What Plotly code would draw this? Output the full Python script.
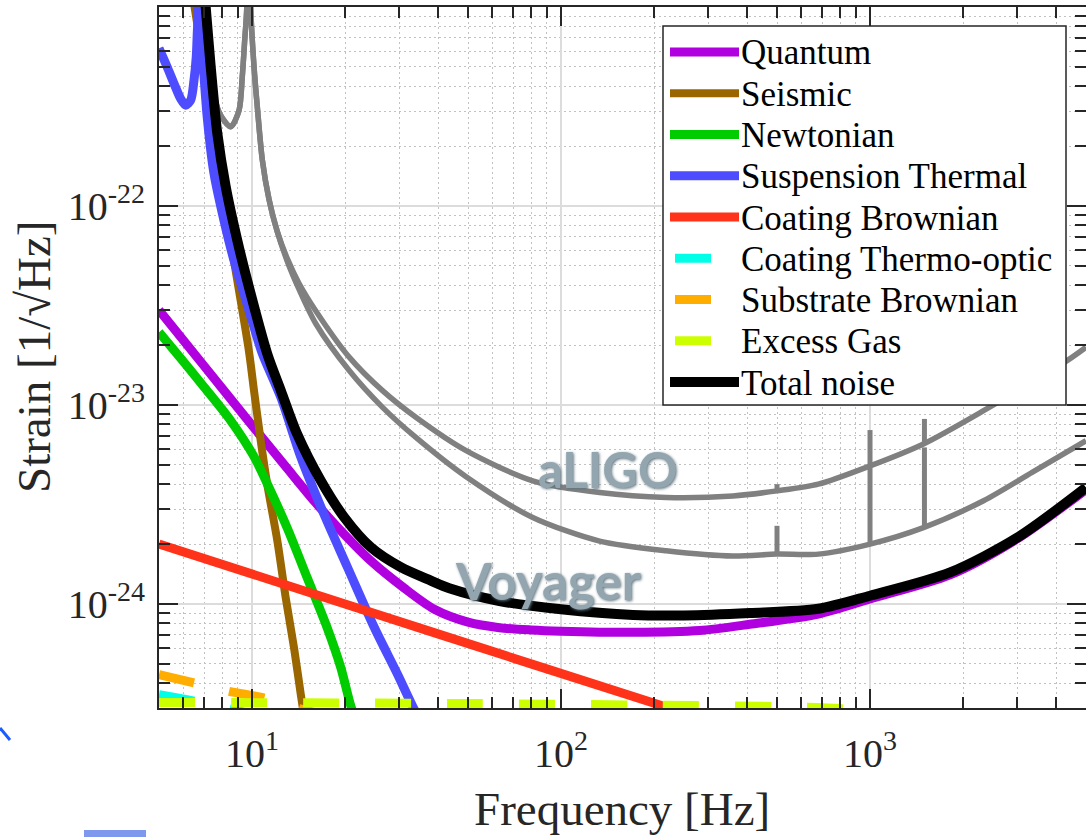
import plotly.graph_objects as go

# ---------------- data ----------------
f_quantum = [5, 7, 10, 13, 16, 19.4, 24.3, 31.1, 38.9, 50, 63.2, 80, 100, 171, 281, 408, 680, 1000, 1816, 2990, 5000]
h_quantum = [3.0e-23, 1.57e-23, 7.9e-24, 4.8e-24, 3.25e-24, 2.33e-24, 1.64e-24, 1.20e-24, 9.4e-25, 8.1e-25,
             7.6e-25, 7.4e-25, 7.3e-25, 7.2e-25, 7.35e-25, 7.9e-25, 8.9e-25, 1.06e-24, 1.40e-24, 2.12e-24, 3.76e-24]

f_seismic = [6.3, 7.08, 7.72, 8.96, 9.78, 10.15, 10.67, 11.2, 12.08, 12.86, 13.68, 14.38, 15.2]
h_seismic = [1.4e-21, 4.4e-22, 1.7e-22, 4.23e-23, 1.85e-23, 1.18e-23, 6.61e-24, 4.0e-24, 2.07e-24, 1.07e-24,
             6.0e-25, 3.51e-25, 2.0e-25]

f_newton = [5, 6, 7, 8.55, 10.15, 11.2, 13.0, 15.1, 17.5, 19.4, 20.9, 22]
h_newton = [2.32e-23, 1.65e-23, 1.23e-23, 8.3e-24, 5.5e-24, 4.02e-24, 2.41e-24, 1.35e-24, 7.6e-25, 4.76e-25,
            3.06e-25, 2.5e-25]

f_susp = [5, 5.31, 5.59, 5.87, 6.10, 6.33, 6.49, 6.60, 6.65, 6.70, 6.76, 6.82, 6.90, 7.16, 7.53, 8.11, 8.74, 9.42,
          10.15, 10.8, 12.4, 14.4, 17.1, 20.4, 24.9, 29.6, 33.1, 36]
h_susp = [6.2e-22, 5.01e-22, 4.13e-22, 3.47e-22, 3.21e-22, 3.40e-22, 4.29e-22, 5.62e-22, 7.38e-22, 9.3e-22, 2.0e-21,
          7.96e-22, 6.08e-22, 2.81e-22, 1.46e-22, 8.48e-23, 5.33e-23, 3.62e-23, 2.46e-23, 1.81e-23, 1.09e-23, 5.45e-24,
          2.82e-24, 1.52e-24, 7.59e-25, 4.42e-25, 3.06e-25, 2.4e-25]

f_coat = [5, 20, 80, 240]
h_coat = [2.0e-24, 1.0e-24, 5.0e-25, 2.9e-25]

f_cto = [5, 6.5, 10, 20]
h_cto = [3.5e-25, 3.25e-25, 2.8e-25, 2.2e-25]

f_sub = [5, 6.49, 8.42, 10.9, 14.4, 30, 100]
h_sub = [4.42e-25, 4.01e-25, 3.64e-25, 3.37e-25, 2.96e-25, 2.3e-25, 1.5e-25]

f_gas = [5, 50, 200, 500, 800, 1000, 2000, 5000]
h_gas = [3.2e-25, 3.16e-25, 3.1e-25, 3.05e-25, 2.98e-25, 2.82e-25, 2.3e-25, 1.6e-25]

f_total = [6.9, 7.08, 7.35, 7.72, 8.22, 8.96, 9.9, 11.2, 12.4, 14.0, 16.7, 19.9, 24.3, 30.3, 37.9, 43.5, 63.2, 100,
           171, 250, 408, 680, 1000, 1816, 2990, 5000]
h_total = [1.6e-21, 1.0e-21, 5.01e-22, 2.32e-22, 1.25e-22, 6.72e-23, 3.62e-23, 1.81e-23, 1.18e-23, 7.14e-24,
           4.16e-24, 2.72e-24, 1.92e-24, 1.53e-24, 1.31e-24, 1.20e-24, 1.035e-24, 9.4e-25, 8.8e-25, 8.75e-25, 9.0e-25,
           9.46e-25, 1.10e-24, 1.44e-24, 2.15e-24, 3.85e-24]

# aLIGO curves: common low-frequency part (suspension resonances), then two branches
f_aligo_low = [6.45, 6.82, 7.16, 7.53, 7.91, 8.53, 9.08, 9.30, 9.47, 9.61, 9.75, 9.90, 10.15, 10.40, 10.80, 11.35,
               12.08]
h_aligo_low = [2.0e-21, 7.38e-22, 5.01e-22, 3.54e-22, 2.86e-22, 2.50e-22, 3.03e-22, 4.47e-22, 6.82e-22, 9.66e-22,
               5.0e-21, 1.0e-21, 5.01e-22, 3.16e-22, 1.70e-22, 1.08e-22, 7.41e-23]
f_aligo_up = [13.02, 14.2, 16.09, 20.63, 26.45, 33.9, 49.3, 81.0, 133.3, 219, 360, 500, 680, 1000, 1489, 2330, 4341,
              5000]
h_aligo_up = [5.42e-23, 4.08e-23, 2.97e-23, 1.74e-23, 1.18e-23, 8.67e-24, 5.89e-24, 4.16e-24, 3.63e-24, 3.43e-24,
              3.49e-24, 3.70e-24, 4.0e-24, 4.94e-24, 6.37e-24, 9.36e-24, 1.67e-23, 1.95e-23]
f_aligo_lo = [13.02, 14.2, 16.09, 20.63, 26.45, 33.9, 49.3, 81.0, 133.3, 219, 360, 500, 680, 1000, 1489, 2330, 3346,
              5000]
h_aligo_lo = [5.25e-23, 3.81e-23, 2.56e-23, 1.49e-23, 9.73e-24, 6.87e-24, 4.36e-24, 2.72e-24, 2.07e-24, 1.85e-24,
              1.74e-24, 1.78e-24, 1.78e-24, 2.0e-24, 2.42e-24, 3.30e-24, 4.58e-24, 6.61e-24]
# violin-mode spikes
spike_f = [500, 500, 1000, 1500, 1500]
spike_base = [3.70e-24, 1.78e-24, 2.0e-24, 6.37e-24, 2.42e-24]
spike_top = [4.0e-24, 2.47e-24, 7.48e-24, 8.51e-24, 6.12e-24]

names = ["Quantum", "Seismic", "Newtonian", "Suspension Thermal", "Coating Brownian",
         "Coating Thermo-optic", "Substrate Brownian", "Excess Gas", "Total noise"]
colors = ["#B000E0", "#996600", "#00CC00", "#4D4DFF", "#FF3319", "#00FFE6", "#FFAE00", "#CCFF00", "#000000"]
dashed = [False, False, False, False, False, True, True, True, False]
widths = [9, 8, 9, 9, 9, 9, 9, 9, 10]

x_ticks = [10, 100, 1000]
x_ticktext = ["10<sup>1</sup>", "10<sup>2</sup>", "10<sup>3</sup>"]
y_ticks = [1e-24, 1e-23, 1e-22]
y_ticktext = ["10<sup>-24</sup>", "10<sup>-23</sup>", "10<sup>-22</sup>"]

# ---------------- layout helpers ----------------
W, H = 1086, 837
L, R, T, B = 159, 0, 7, 129
PW, PH = W - L - R, H - T - B


def px(x):
    return (x - L) / PW


def py(y):
    return (H - B - y) / PH


SERIF = "Liberation Serif"
AX = "#262626"
GRAY = "#808080"

fig = go.Figure()


def add_line(x, y, color, width, dash=None, shape="spline"):
    fig.add_trace(go.Scatter(x=x, y=y, mode="lines",
                             line=dict(color=color, width=width, dash=dash, shape=shape, smoothing=0.8),
                             showlegend=False, hoverinfo="skip"))


# aLIGO (gray) curves
add_line(f_aligo_low + f_aligo_up, h_aligo_low + h_aligo_up, GRAY, 5.5)
add_line(f_aligo_low + f_aligo_lo, h_aligo_low + h_aligo_lo, GRAY, 5.5)
for f, b0, b1 in zip(spike_f, spike_base, spike_top):
    add_line([f, f], [b0, b1], GRAY, 5, shape="linear")

series = [(f_quantum, h_quantum), (f_seismic, h_seismic), (f_newton, h_newton), (f_susp, h_susp),
          (f_coat, h_coat), (f_cto, h_cto), (f_sub, h_sub), (f_gas, h_gas), (f_total, h_total)]
DASH = "36px,36px"
for (fx, fy), c, d, w in zip(series, colors, dashed, widths):
    add_line(fx, fy, c, w, dash=DASH if d else None)

# ---------------- manual legend ----------------
shapes = [dict(type="rect", xref="paper", yref="paper", x0=px(663), x1=px(1066), y0=py(26), y1=py(405),
               fillcolor="white", line=dict(color=AX, width=1.5), layer="above")]
annotations = []
for i, (n, c, d, w) in enumerate(zip(names, colors, dashed, widths)):
    yc = 52 + 41.25 * i
    x0, x1 = (675, 711) if d else (670, 739)
    shapes.append(dict(type="line", xref="paper", yref="paper", x0=px(x0), x1=px(x1), y0=py(yc), y1=py(yc),
                       line=dict(color=c, width=w), layer="above"))
    annotations.append(dict(text=n, xref="paper", yref="paper", x=px(739), y=py(yc + 1), xanchor="left",
                            yanchor="middle", showarrow=False, font=dict(family=SERIF, size=35, color="black")))

# stray cropped artefacts at the bottom left
shapes.append(dict(type="line", xref="paper", yref="paper", x0=px(0), x1=px(10), y0=py(728), y1=py(740),
                   line=dict(color="#1E5BFF", width=3), layer="above"))
shapes.append(dict(type="rect", xref="paper", yref="paper", x0=px(84), x1=px(146), y0=py(830), y1=py(838),
                   fillcolor="#7E98EE", line=dict(width=0), layer="above"))

# labels inside the plot
annotations.append(dict(text="aLIGO", xref="paper", yref="paper", x=px(607), y=py(469), xanchor="center",
                        yanchor="middle", showarrow=False,
                        font=dict(family="Lato", size=49, color="#93A6B0", weight="bold",
                                  shadow="1px 1px 3px #5f737d")))
annotations.append(dict(text="Voyager", xref="paper", yref="paper", x=px(548), y=py(580), xanchor="center",
                        yanchor="middle", showarrow=False,
                        font=dict(family="Lato", size=51, color="#93A6B0", weight="bold",
                                  shadow="1px 1px 3px #5f737d")))

# axis titles
annotations.append(dict(text="Frequency [Hz]", xref="paper", yref="paper", x=px(622), y=py(809),
                        xanchor="center", yanchor="middle", showarrow=False,
                        font=dict(family=SERIF, size=47, color=AX)))
annotations.append(dict(text="Strain [1/√Hz]", xref="paper", yref="paper", x=px(34), y=py(357),
                        xanchor="center", yanchor="middle", textangle=-90, showarrow=False,
                        font=dict(family=SERIF, size=47, color=AX)))

x_minor = [m * 10 ** e for e in range(0, 4) for m in range(2, 10) if 5 <= m * 10 ** e <= 5000]
y_minor = [m * 10.0 ** e for e in range(-25, -21) for m in range(2, 10) if 3e-25 <= m * 10.0 ** e <= 1e-21]

common = dict(showline=True, linecolor=AX, linewidth=2, mirror="allticks", ticks="inside", ticklen=19,
              tickwidth=2, tickcolor=AX, showgrid=True, gridcolor="#DCDCDC", gridwidth=2, zeroline=False,
              tickfont=dict(family=SERIF, size=40, color=AX), tickmode="array", automargin=False)
minor = dict(ticks="inside", ticklen=11, tickwidth=1.5, tickcolor=AX, showgrid=True, gridcolor="#C2C2C2",
             griddash="2px,3px", gridwidth=1.3)

fig.update_xaxes(type="log", range=[0.69897, 3.69897], tickvals=x_ticks, ticktext=x_ticktext,
                 ticklabelstandoff=9, minor=dict(tickvals=x_minor, **minor), **common)
fig.update_yaxes(type="log", range=[-24.5229, -21.0], tickvals=y_ticks, ticktext=y_ticktext,
                 ticklabelstandoff=4, minor=dict(tickvals=y_minor, **minor), **common)

fig.update_layout(width=W, height=H, margin=dict(l=L, r=R, t=T, b=B, pad=0), plot_bgcolor="white",
                  paper_bgcolor="white", showlegend=False, shapes=shapes, annotations=annotations)

fig.write_html("out.html", config={"displayModeBar": False},
               post_script="document.body.style.margin='0px';document.body.style.overflow='hidden';")
